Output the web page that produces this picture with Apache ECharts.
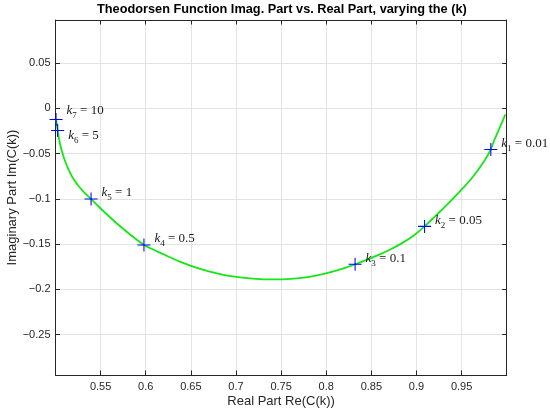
<!DOCTYPE html>
<html lang="en">
<head>
    <meta charset="UTF-8">
    <title>theodorsen</title>
    <script src="https://cdn.jsdelivr.net/npm/echarts@6/dist/echarts.min.js"></script>
</head>
<body style="margin:0">
<div id="chart_main" style="width:550px;height:415px"></div>
<script>
    // curve C(k) = F + iG, from small k to large k
    var reF = [0.9984, 0.9958, 0.9925, 0.9888, 0.9855, 0.9824, 0.9760, 0.9690, 0.9612, 0.9520,
        0.9410, 0.9300, 0.9200, 0.9090, 0.8970, 0.8840, 0.8710, 0.8580, 0.8450, 0.8320,
        0.8200, 0.8050, 0.7900, 0.7750, 0.7600, 0.7450, 0.7300, 0.7150, 0.7000, 0.6850,
        0.6700, 0.6550, 0.6400, 0.6250, 0.6100, 0.5980, 0.5840, 0.5700, 0.5580, 0.5480,
        0.5394, 0.5328, 0.5265, 0.5205, 0.5155, 0.5112, 0.5075, 0.5045, 0.5024, 0.5006];
    var imG = [-0.0070, -0.0135, -0.0210, -0.0295, -0.0370, -0.0456, -0.0570, -0.0672, -0.0773, -0.0878,
        -0.0993, -0.1103, -0.1200, -0.1305, -0.1405, -0.1490, -0.1560, -0.1620, -0.1674, -0.1723,
        -0.1766, -0.1811, -0.1846, -0.1870, -0.1885, -0.1891, -0.1889, -0.1879, -0.1862, -0.1837,
        -0.1802, -0.1758, -0.1703, -0.1637, -0.1568, -0.1510, -0.1405, -0.1290, -0.1182, -0.1088,
        -0.1003, -0.0940, -0.0870, -0.0790, -0.0700, -0.0600, -0.0490, -0.0370, -0.0247, -0.0124];

    // marked points k1..k7
    var markNo = ['1', '2', '3', '4', '5', '6', '7'];
    var markK = ['0.01', '0.05', '0.1', '0.5', '1', '5', '10'];
    var markF = [0.9824, 0.9090, 0.8320, 0.5980, 0.5394, 0.5024, 0.5006];
    var markG = [-0.0456, -0.1305, -0.1723, -0.1510, -0.1003, -0.0247, -0.0124];

    var xTicks = [0.55, 0.6, 0.65, 0.7, 0.75, 0.8, 0.85, 0.9, 0.95];
    var yTicks = [-0.25, -0.2, -0.15, -0.1, -0.05, 0, 0.05];

    // label nudges (px) so the text sits like in the original
    var labelShift = [[4, -6], [4, -6], [4, -6], [4, -6], [4, -6], [4, 5], [4, -9]];

    var curve = [];
    for (var i = 0; i < reF.length; i++) {
        curve.push([reF[i], imG[i]]);
    }
    var marks = [];
    for (var j = 0; j < markF.length; j++) {
        marks.push({
            value: [markF[j], markG[j]],
            label: {
                offset: labelShift[j],
                formatter: '{k|k}{s|' + markNo[j] + '}{t| = ' + markK[j] + '}'
            }
        });
    }

    function fmt(v) {
        var s = String(+(+v).toFixed(2));
        return s.replace('-', '\u2212');
    }

    var ink = '#262626';
    var gridColor = '#e3e3e3';
    var plus = 'path://M-0.08,-1 L0.08,-1 L0.08,-0.08 L1,-0.08 L1,0.08 L0.08,0.08 L0.08,1 L-0.08,1 L-0.08,0.08 L-1,0.08 L-1,-0.08 L-0.08,-0.08 Z';

    function boxAxis(pos, lo, hi, ticks, withLabels) {
        return {
            type: 'value',
            position: pos,
            min: lo,
            max: hi,
            axisLine: {show: true, onZero: false, lineStyle: {color: ink, width: 1}},
            axisTick: {show: true, inside: true, length: 4.5, customValues: ticks,
                lineStyle: {color: ink, width: 1}},
            axisLabel: {show: withLabels, customValues: ticks, formatter: fmt,
                color: ink, fontSize: 11, fontFamily: 'Liberation Sans',
                margin: (pos === 'bottom' ? 6 : 5)},
            splitLine: {show: withLabels, lineStyle: {color: gridColor, width: 1}}
        };
    }

    var xBottom = boxAxis('bottom', 0.5, 1.0, xTicks, true);
    xBottom.name = 'Real Part Re(C(k))';
    xBottom.nameLocation = 'middle';
    xBottom.nameGap = 20;
    xBottom.nameMoveOverlap = false;
    xBottom.nameTextStyle = {color: ink, fontSize: 13, fontFamily: 'Liberation Sans'};
    var yLeft = boxAxis('left', -0.2946, 0.0974, yTicks, true);
    yLeft.name = 'Imaginary Part Im(C(k))';
    yLeft.nameLocation = 'middle';
    yLeft.nameGap = 37;
    yLeft.nameMoveOverlap = false;
    yLeft.nameTextStyle = {color: ink, fontSize: 13, fontFamily: 'Liberation Sans'};

    var option = {
        animation: false,
        backgroundColor: '#ffffff',
        title: {
            text: 'Theodorsen Function Imag. Part vs. Real Part, varying the (k)',
            left: 97,
            top: 3,
            padding: 0,
            textStyle: {color: '#000', fontSize: 12.75, fontWeight: 'bold', fontFamily: 'Liberation Sans'}
        },
        grid: {left: 55.5, right: 43.3, top: 20, bottom: 40, containLabel: false, outerBoundsMode: 'none'},
        xAxis: [xBottom, boxAxis('top', 0.5, 1.0, xTicks, false)],
        yAxis: [yLeft, boxAxis('right', -0.2946, 0.0974, yTicks, false)],
        series: [
            {
                type: 'line',
                data: curve,
                smooth: 0.25,
                showSymbol: false,
                lineStyle: {color: '#16e616', width: 1.8},
                z: 2
            },
            {
                type: 'scatter',
                data: marks,
                symbol: plus,
                symbolSize: 13,
                itemStyle: {color: '#0000ff', opacity: 1},
                label: {
                    show: true,
                    position: 'right',
                    distance: 0,
                    color: '#1a1a1a',
                    rich: {
                        k: {fontFamily: 'Liberation Serif', fontStyle: 'italic', fontSize: 13, lineHeight: 15},
                        s: {fontFamily: 'Liberation Serif', fontSize: 9, lineHeight: 9, verticalAlign: 'bottom', padding: [0, 0, -2, 0]},
                        t: {fontFamily: 'Liberation Serif', fontSize: 13, lineHeight: 15}
                    }
                },
                z: 3
            }
        ]
    };

    var chart_main = echarts.init(document.getElementById('chart_main'));
    chart_main.setOption(option);
</script>
</body>
</html>
